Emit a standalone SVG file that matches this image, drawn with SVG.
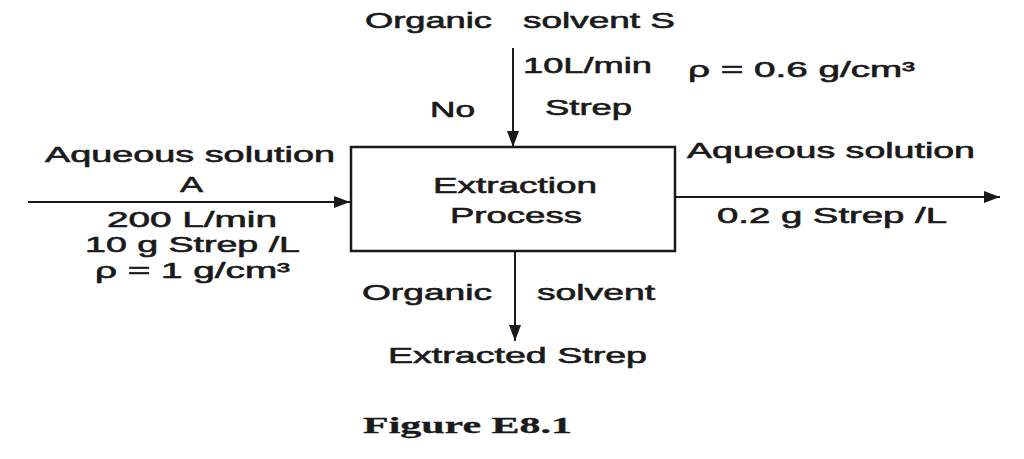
<svg xmlns="http://www.w3.org/2000/svg" width="1024" height="459" viewBox="0 0 1024 459">
<style>
  text { font-family: "Liberation Sans", Arial, sans-serif; font-size: 22px; fill: #1a1a1a; stroke: #1a1a1a; stroke-width: 0.6; }
  .cap { font-family: "Liberation Serif", "Times New Roman", serif; font-weight: bold; font-size: 23px; stroke-width: 0.3; }
  .conn { stroke: #1a1a1a; stroke-width: 2; fill: none; }
  .box { stroke: #1a1a1a; stroke-width: 2.5; fill: #ffffff; }
</style>
<defs>
  <marker id="arrow" markerUnits="userSpaceOnUse" markerWidth="16" markerHeight="12" refX="16" refY="6" orient="auto">
    <path d="M0,0 L16,6 L0,12 z" fill="#1a1a1a"/>
  </marker>
</defs>
<rect width="1024" height="459" fill="#ffffff"/>

<g id="connectors">
  <line class="conn" x1="513" y1="48" x2="513" y2="147" marker-end="url(#arrow)"/>
  <line class="conn" x1="28" y1="202" x2="350" y2="202" marker-end="url(#arrow)"/>
  <line class="conn" x1="675" y1="197" x2="1000" y2="197" marker-end="url(#arrow)"/>
  <line class="conn" x1="515" y1="251" x2="515" y2="341" marker-end="url(#arrow)"/>
</g>

<g id="extraction-process">
  <rect class="box" x="351" y="147" width="324" height="104"/>
  <text x="433" y="193" textLength="164" lengthAdjust="spacingAndGlyphs">Extraction</text>
  <text x="450" y="223" textLength="132" lengthAdjust="spacingAndGlyphs">Process</text>
</g>

<g id="organic-solvent-in">
  <text x="365" y="28" textLength="127" lengthAdjust="spacingAndGlyphs">Organic</text>
  <text x="523" y="28" textLength="152" lengthAdjust="spacingAndGlyphs">solvent S</text>
  <text x="523" y="73" textLength="129" lengthAdjust="spacingAndGlyphs">10L/min</text>
  <text x="688" y="77" textLength="227" lengthAdjust="spacingAndGlyphs">ρ = 0.6 g/cm³</text>
  <text x="430" y="117" textLength="45" lengthAdjust="spacingAndGlyphs">No</text>
  <text x="545" y="115" textLength="87" lengthAdjust="spacingAndGlyphs">Strep</text>
</g>

<g id="aqueous-feed">
  <text x="45" y="162" textLength="290" lengthAdjust="spacingAndGlyphs">Aqueous solution</text>
  <text x="180" y="192" textLength="23" lengthAdjust="spacingAndGlyphs">A</text>
  <text x="107" y="227" textLength="170" lengthAdjust="spacingAndGlyphs">200 L/min</text>
  <text x="85" y="252" textLength="215" lengthAdjust="spacingAndGlyphs">10 g Strep /L</text>
  <text x="95" y="278" textLength="195" lengthAdjust="spacingAndGlyphs">ρ = 1 g/cm³</text>
</g>

<g id="aqueous-out">
  <text x="687" y="158" textLength="288" lengthAdjust="spacingAndGlyphs">Aqueous solution</text>
  <text x="717" y="223" textLength="230" lengthAdjust="spacingAndGlyphs">0.2 g Strep /L</text>
</g>

<g id="organic-solvent-out">
  <text x="362" y="300" textLength="130" lengthAdjust="spacingAndGlyphs">Organic</text>
  <text x="537" y="300" textLength="118" lengthAdjust="spacingAndGlyphs">solvent</text>
  <text x="388" y="363" textLength="259" lengthAdjust="spacingAndGlyphs">Extracted Strep</text>
</g>

<g id="caption">
  <text class="cap" x="363" y="433" textLength="209" lengthAdjust="spacingAndGlyphs">Figure E8.1</text>
</g>
</svg>
